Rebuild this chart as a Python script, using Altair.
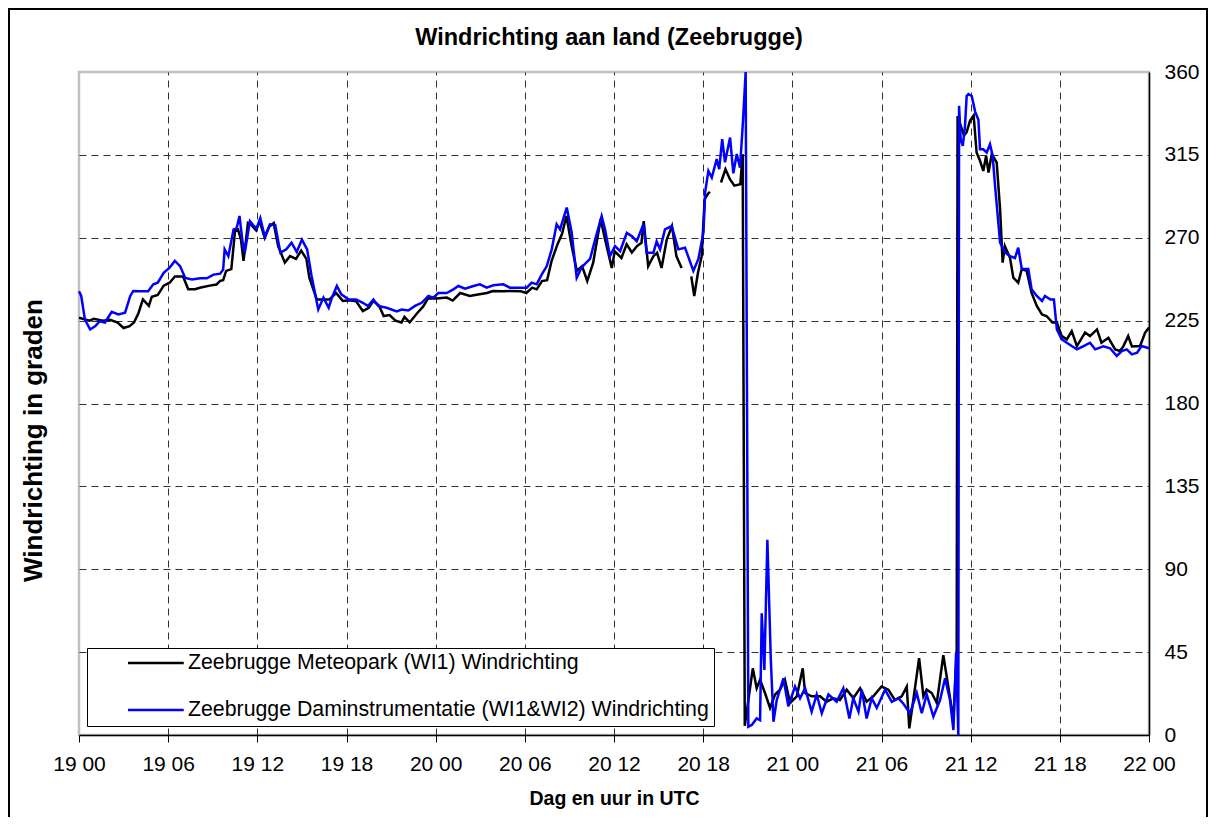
import altair as alt
import pandas as pd

# ---------------- data ----------------
chart_title = "Windrichting aan land (Zeebrugge)"
x_ticks = [0, 6, 12, 18, 24, 30, 36, 42, 48, 54, 60, 66, 72]
x_tick_labels = ["19 00", "19 06", "19 12", "19 18", "20 00", "20 06", "20 12",
                 "20 18", "21 00", "21 06", "21 12", "21 18", "22 00"]
x_grid = [6, 12, 18, 24, 30, 36, 42, 48, 54, 60, 66]
y_ticks = [0, 45, 90, 135, 180, 225, 270, 315, 360]
y_grid = [45, 90, 135, 180, 225, 270, 315]

series_names = ["Zeebrugge Meteopark (WI1) Windrichting",
                "Zeebrugge Daminstrumentatie (WI1&WI2) Windrichting"]
series_colors = ["#000000", "#0000ff"]

# hours since 19 00 UTC
meteo_hours = [
    0.0, 0.7, 1.0, 1.6, 2.1, 2.6, 3.0, 3.4, 3.7, 4.0,
    4.3, 4.7, 4.9, 5.3, 5.7, 6.1, 6.45, 7.0, 7.35, 7.8,
    8.2, 8.8, 9.25, 9.5, 9.7, 9.9, 10.25, 10.5, 10.7, 10.9,
    11.07, 11.37, 11.6, 11.92, 12.15, 12.5, 12.8, 13.1, 13.4, 13.85,
    14.2, 14.6, 14.95, 15.3, 15.5, 16.0, 16.4, 16.85, 17.3, 17.75,
    18.2, 18.65, 19.1, 19.5, 19.8, 20.2, 20.5, 20.9, 21.3, 21.7,
    21.9, 22.25, 22.75, 23.15, 23.5, 24.05, 24.75, 25.15, 25.65, 26.3,
    26.75, 27.45, 27.85, 28.55, 28.95, 29.7, 30.1, 30.5, 30.8, 31.15,
    31.5, 31.8, 32.2, 32.5, 32.8, 33.15, 33.5, 33.85, 34.2, 34.6,
    35.1, 35.4, 35.85, 36.05, 36.5, 36.85, 37.2, 37.55, 37.85, 38.0,
    38.3, 38.65, 38.9, 39.2, 39.55, 39.9, 40.2, 40.55, 40.8, 41.2,
    41.4, 41.65, 41.9, 42.1, 42.3, 42.45, 42.6, 42.75, 43.0, 43.2,
    43.5, 43.8, 44.1, 44.5, 44.66, 44.8, 45.34, 45.6, 45.83, 46.16,
    46.5, 46.84, 47.17, 47.5, 47.85, 48.3, 48.7, 48.86, 49.3, 49.87,
    50.3, 50.76, 51.2, 51.66, 52.1, 52.56, 53.0, 53.45, 54.0, 54.46,
    54.9, 55.36, 55.7, 55.87, 56.14, 56.53, 56.82, 57.04, 57.38, 57.72,
    58.16, 58.5, 58.84, 59.06, 59.12, 59.55, 59.73, 59.96, 60.2, 60.4,
    60.63, 60.85, 61.04, 61.2, 61.42, 61.75, 61.98, 62.15, 62.3, 62.65,
    62.87, 63.2, 63.44, 63.77, 64.1, 64.45, 64.8, 65.1, 65.5, 65.8,
    66.13, 66.47, 66.8, 67.15, 67.7, 68.03, 68.5, 68.8, 69.27, 69.72,
    70.05, 70.27, 70.6, 70.85, 71.4, 71.74, 72.0]
meteo_dir = [
    226.6, 225, 226, 225, 225.5, 224, 221, 222, 224, 229,
    236.5, 233, 238, 239, 244, 245.6, 249, 249, 242, 242,
    243, 244, 244.6, 246.6, 247, 252, 253, 273.7, 274.5, 269,
    257.4, 278, 277, 274, 279, 270, 276, 278, 265.5, 256.5,
    260, 258.5, 263, 258.5, 248.3, 236.5, 236.5, 236.5, 240, 235.7,
    236, 235.5, 230.2, 232, 235.7, 233, 227.5, 228, 225, 224,
    227, 224, 229, 232.6, 237.2, 237, 237.5, 235.9, 240, 238.4,
    239, 240, 241.1, 241, 241.1, 241, 240, 242.9, 242, 246.5,
    247, 257.4, 266.5, 272, 281.8, 265.5, 252, 254.6, 246.5, 256.5,
    280, 269, 253.6, 262.6, 259, 266.5, 262, 265.5, 267.3, 279,
    254.6, 260, 261.8, 253.6, 269, 276.3, 260, 253.6, None, 249,
    238.4, 251, 260, 290.9, 293.6, 295, None, 298, None, 300,
    307.2, 301.8, 298.3, 299, 315.4, 5, 36.2, 25.4, 30, 22.8,
    14.7, 22, 24.6, 30, 17.4, 21, 36.2, 22.8, 21, 21,
    18.1, 19.9, 19, 24.6, 20, 25.4, 18.1, 21, 26.3, 24.6,
    19, 21, 26.3, 3.6, 19, 41.7, 21, 24.6, 22.8, 17.4,
    43.3, 26, 8.2, 45, 336, 325.5, 327.3, 333.7, 336.4, 316.3,
    311.8, 306.3, 314.5, 305.4, 315.4, 310.9, 285.5, 256.5, 265.5, 259,
    248.3, 245.6, 253, 252, 240, 233, 228.4, 227.5, 224, 224,
    216.6, 214.8, 219.3, 211.2, 218.5, 216.6, 220.2, 213, 215.7, 209.4,
    208.5, 211, 216.6, 211, 211.2, 218.5, 221.2]

dam_hours = [
    0.0, 0.15, 0.4, 0.75, 1.1, 1.4, 1.75, 2.2, 2.65, 3.1,
    3.45, 3.65, 4.1, 4.65, 5.0, 5.3, 5.7, 6.1, 6.45, 6.8,
    7.15, 7.6, 8.15, 8.6, 9.05, 9.5, 9.7, 9.8, 10.05, 10.4,
    10.6, 10.8, 11.0, 11.15, 11.5, 11.7, 11.95, 12.2, 12.5, 12.85,
    13.2, 13.55, 13.95, 14.3, 14.65, 15.0, 15.35, 15.65, 16.1, 16.45,
    16.8, 17.0, 17.35, 17.65, 18.15, 18.65, 19.1, 19.45, 19.81, 20.14,
    20.7, 21.38, 21.71, 22.16, 22.61, 23.06, 23.51, 23.84, 24.18, 24.74,
    25.19, 25.53, 25.98, 26.54, 26.98, 27.43, 27.88, 28.55, 29.0, 29.68,
    30.13, 30.46, 30.8, 31.13, 31.47, 31.81, 32.14, 32.37, 32.82, 33.15,
    33.49, 33.83, 34.39, 34.73, 35.17, 35.4, 35.73, 36.07, 36.41, 36.86,
    37.19, 37.53, 37.98, 38.2, 38.65, 38.87, 39.1, 39.43, 39.88, 40.33,
    40.78, 41.34, 41.68, 42.02, 42.13, 42.35, 42.58, 42.91, 43.08, 43.28,
    43.47, 43.81, 44.03, 44.26, 44.48, 44.66, 44.86, 45.04, 45.27, 45.6,
    45.83, 45.94, 46.12, 46.32, 46.55, 46.73, 46.95, 47.4, 47.73, 48.18,
    48.52, 48.86, 49.3, 49.64, 49.98, 50.43, 50.98, 51.43, 51.84, 52.1,
    52.45, 52.67, 53.0, 53.34, 53.68, 54.24, 54.69, 55.14, 55.47, 55.92,
    56.37, 56.71, 57.04, 57.49, 57.94, 58.28, 58.61, 58.84, 59.02, 59.17,
    59.22, 59.33, 59.47, 59.62, 59.73, 59.85, 60.07, 60.3, 60.52, 60.63,
    60.85, 61.08, 61.3, 61.48, 61.64, 61.98, 62.31, 62.65, 62.98, 63.2,
    63.44, 63.88, 64.1, 64.45, 64.8, 65.0, 65.37, 65.6, 65.8, 66.13,
    66.47, 66.8, 67.15, 67.6, 68.03, 68.38, 68.93, 69.38, 69.83, 70.17,
    70.5, 70.85, 71.2, 71.5, 72.0]
dam_dir = [
    241, 238.4, 225.5, 220.2, 222, 224.7, 224, 229.8, 228.4, 229.3,
    238.4, 241.1, 241, 241, 244.7, 245.6, 251, 253.8, 257.4, 254.6,
    248.2, 247.3, 248, 248, 250, 250.5, 252.7, 263.7, 260, 274.5,
    275, 281.8, 268, 261.7, 279, 277, 275, 280.7, 270.7, 277.3,
    277, 262, 263.7, 267.3, 262.3, 269, 263.7, 249.2, 231.1, 237.5,
    232, 237, 243.8, 239.3, 236.5, 236.5, 234.7, 232.9, 236.5, 233,
    232, 230, 231, 230.5, 233, 234.7, 238.4, 237.5, 240, 240,
    242, 243.8, 242.3, 243.8, 244.7, 242.9, 244.2, 244.7, 242.9, 242.9,
    242.9, 245.6, 244.7, 250, 254.5, 263.7, 277.3, 274.5, 286.4, 273,
    248.3, 254, 258.5, 269, 281.8, 274.5, 260, 265.5, 262.7, 272.6,
    270.9, 268.1, 277.3, 261.8, 261.8, 268, 263.7, 274.5, 276.3, 263.7,
    264.6, 252, 258.5, 273, 294.5, 306.3, 302.7, 312.7, 307.2, 323.5,
    311, 324.4, 305, 315.5, 308, 330.8, 360, 4.5, 5.4, 9,
    8, 66.1, 35.3, 106, 41.5, 7.2, 19, 30.8, 15.6, 26.3,
    19.9, 25.4, 12.7, 22, 11.8, 22, 18.1, 25.4, 9, 20,
    12.7, 24.6, 9, 20, 14.7, 24.6, 18, 20, 17, 11.8,
    22.8, 11.8, 22, 10, 19, 30.8, 19, 2.7, 44.6, 0,
    341.7, 323.5, 319.9, 330.8, 347, 348, 347, 338.5, 334, 318,
    318, 316.3, 320.8, 314.5, 298.3, 267.4, 262, 260, 259, 264.6,
    253, 253, 242, 238.4, 235.7, 238.4, 236.5, 236.5, 220.2, 214.8,
    213, 211.2, 209.4, 211.2, 213, 209.4, 211, 210, 205.8, 208.5,
    209.4, 206.7, 207.6, 211.2, 210]

df = pd.DataFrame({
    "hour": meteo_hours + dam_hours,
    "dir": meteo_dir + dam_dir,
    "series": [series_names[0]] * len(meteo_hours) + [series_names[1]] * len(dam_hours),
})

FONT = "Liberation Sans"
PLOT_W, PLOT_H = 1070, 663

label_js = "[" + ",".join("'%s'" % s for s in x_tick_labels) + "][round(datum.value / 6)]"

x_scale = alt.Scale(domain=[0, 72], nice=False, zero=False)
y_scale = alt.Scale(domain=[0, 360], nice=False, zero=True)

color = alt.Color(
    "series:N",
    scale=alt.Scale(domain=series_names, range=series_colors),
    legend=alt.Legend(
        title=None, orient="none", legendX=8, legendY=576,
        direction="vertical",
        fillColor="white", strokeColor="black", padding=5,
        clipHeight=20, rowPadding=25,
        symbolType="M-0.232,0L1,0", symbolSize=8190, symbolStrokeWidth=2.5,
        labelFont=FONT, labelFontSize=21.3, labelColor="black", labelOffset=3,
        labelLimit=800,
    ),
)

# grid + left title layer
grid_layer = alt.Chart(df).mark_line(strokeOpacity=0).encode(
    x=alt.X("hour:Q", scale=x_scale, axis=alt.Axis(
        orient="top", values=x_grid, grid=True, labels=False, ticks=False,
        domain=False, title=None, gridColor="#333333", gridDash=[7, 5],
        gridWidth=1)),
    y=alt.Y("dir:Q", scale=y_scale, axis=alt.Axis(
        orient="left", values=y_grid, grid=True, labels=False, ticks=False,
        domain=False, gridColor="#333333", gridDash=[7, 5], gridWidth=1,
        title="Windrichting in graden", titleFont=FONT, titleFontSize=26,
        titleFontWeight="bold", titleColor="black", titleAngle=270,
        titleX=-46, titleY=368, titleAlign="center", titleBaseline="middle")),
)

meteo_layer = alt.Chart(df).transform_filter(
    alt.datum.series == series_names[0]
).mark_line(strokeWidth=2.5, invalid="break-paths-show-domains").encode(
    x=alt.X("hour:Q", scale=x_scale, axis=alt.Axis(
        orient="bottom", values=x_ticks, labelExpr=label_js, grid=False,
        labelFlush=False, labelOverlap=False,
        tickSize=7, tickColor="black", domainColor="black", domainWidth=1.5,
        labelFont=FONT, labelFontSize=21, labelColor="black", labelPadding=11,
        title="Dag en uur in UTC", titleFont=FONT, titleFontSize=19.5,
        titleFontWeight="bold", titleColor="black", titleY=63,
        titleBaseline="middle")),
    y=alt.Y("dir:Q", scale=y_scale, axis=alt.Axis(
        orient="right", values=y_ticks, grid=False, ticks=False,
        labelFlush=False, labelOverlap=False,
        domainColor="black", domainWidth=1.5, labelFont=FONT,
        labelFontSize=21, labelColor="black", labelPadding=15, title=None)),
    color=color,
)

dam_layer = alt.Chart(df).transform_filter(
    alt.datum.series == series_names[1]
).mark_line(strokeWidth=2.5, invalid="break-paths-show-domains").encode(
    x=alt.X("hour:Q", scale=x_scale, axis=None),
    y=alt.Y("dir:Q", scale=y_scale, axis=None),
    color=color,
)

frame = alt.Chart(pd.DataFrame({"k": [0]})).mark_rect(
    fillOpacity=0, stroke="black", strokeWidth=2
).encode(
    x=alt.value(-70), x2=alt.value(1128), y=alt.value(-63), y2=alt.value(780)
)

title_layer = alt.Chart(pd.DataFrame({"t": [chart_title]})).mark_text(
    font=FONT, fontSize=23.5, fontWeight="bold", color="black",
    align="center", baseline="alphabetic"
).encode(text="t:N", x=alt.value(530), y=alt.value(-27))

chart = alt.layer(grid_layer, meteo_layer, dam_layer, frame, title_layer).resolve_scale(
    x="shared", y="shared"
).resolve_axis(
    x="independent", y="independent"
).properties(
    width=PLOT_W, height=PLOT_H,
    autosize=alt.AutoSizeParams(type="none"),
    padding={"left": 71, "top": 64, "right": 59, "bottom": 82},
).configure(font=FONT).configure_view(stroke="#c0c0c0", strokeWidth=2.5)

chart.save("out.html", embed_options={"renderer": "svg", "actions": False})
